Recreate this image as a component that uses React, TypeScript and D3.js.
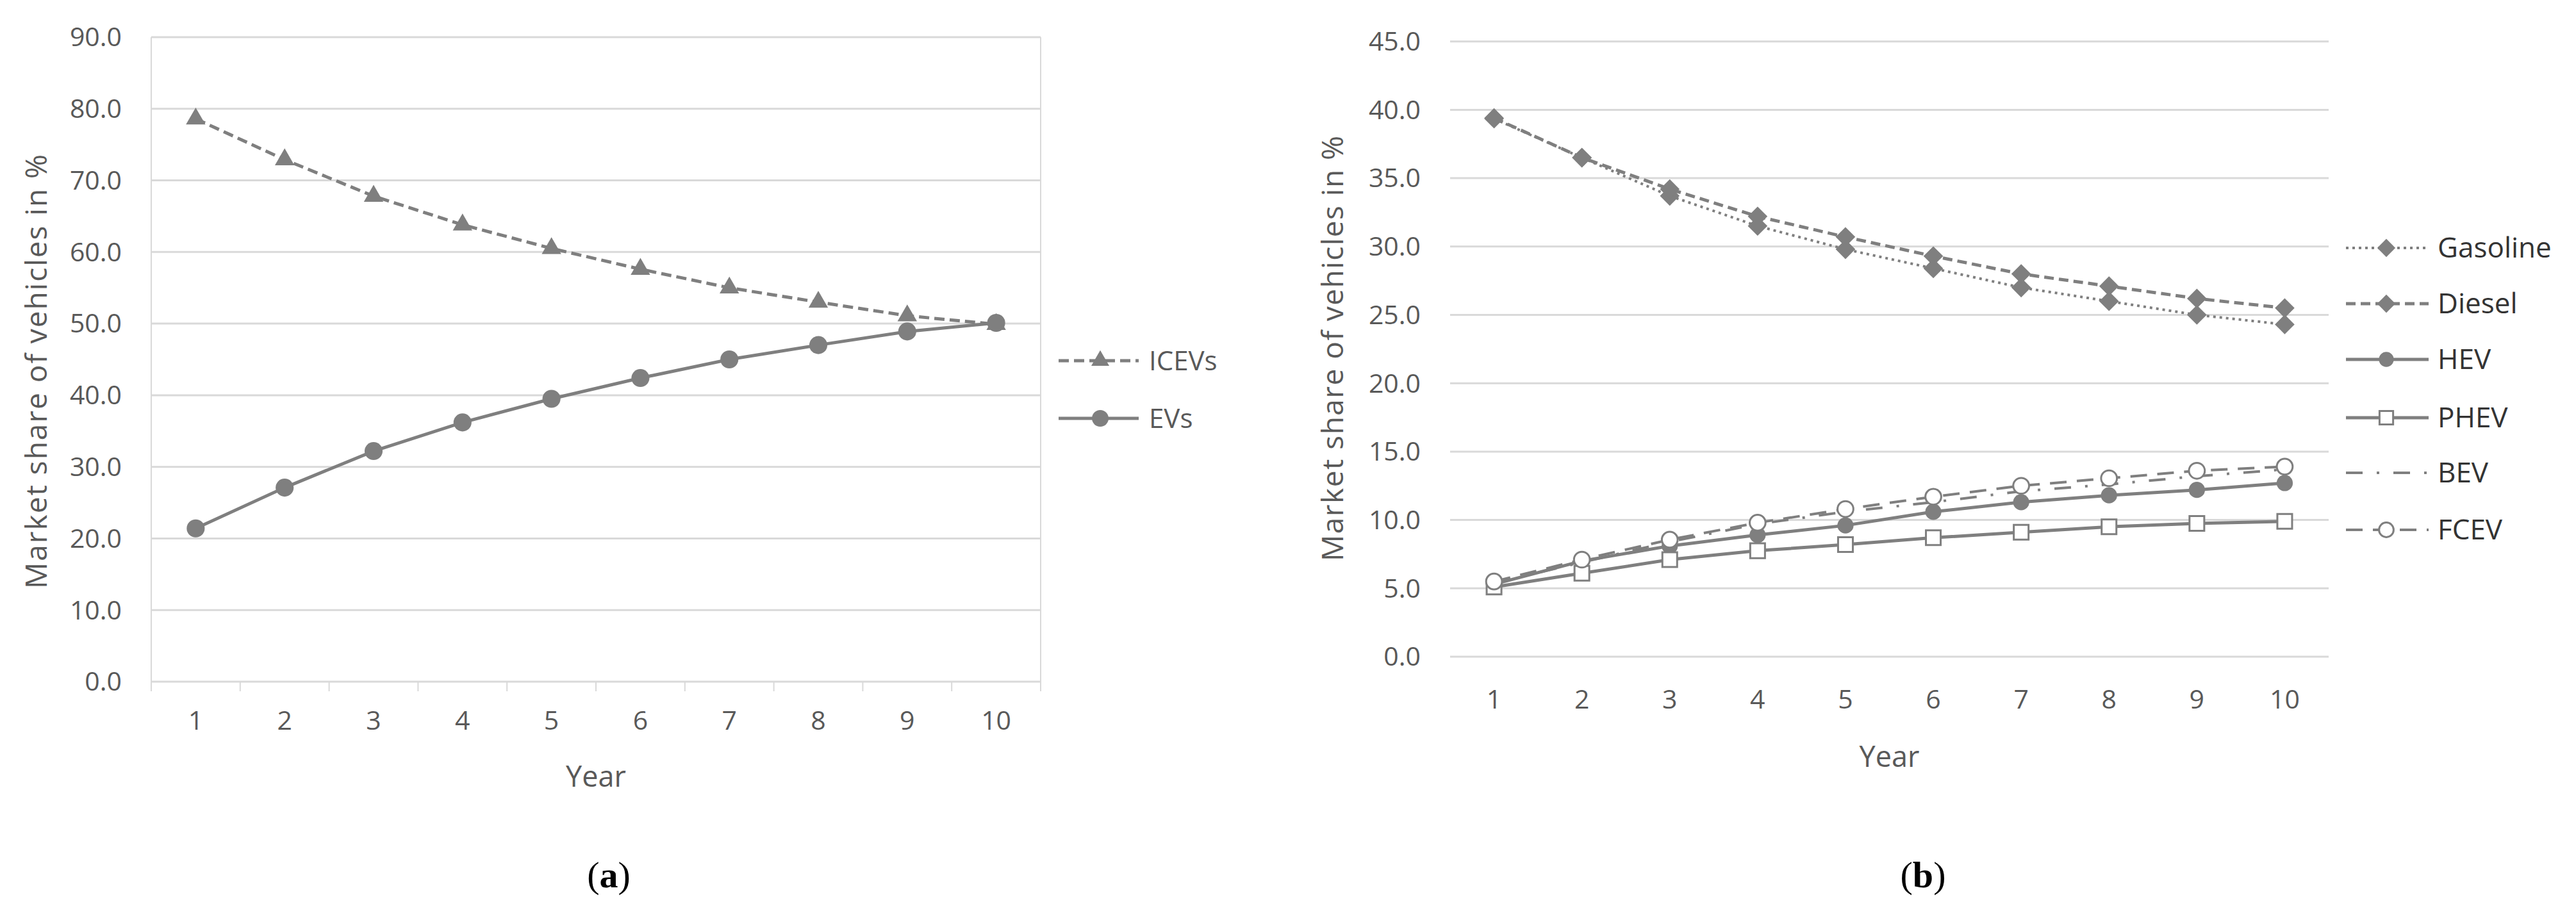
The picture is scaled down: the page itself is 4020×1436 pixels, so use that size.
import React from "react";
import * as d3 from "d3";

const years = [1, 2, 3, 4, 5, 6, 7, 8, 9, 10];

// Panel (a)
const icevs = [78.6, 72.9, 67.8, 63.8, 60.5, 57.6, 55.0, 53.0, 51.1, 49.9];
const evs = [21.4, 27.1, 32.2, 36.2, 39.5, 42.4, 45.0, 47.0, 48.9, 50.1];
const ticksA = [0, 10, 20, 30, 40, 50, 60, 70, 80, 90];

// Panel (b)
const gasoline = [39.35, 36.5, 33.7, 31.5, 29.8, 28.4, 27.0, 26.0, 25.0, 24.3];
const diesel = [39.4, 36.5, 34.2, 32.2, 30.7, 29.3, 28.0, 27.1, 26.2, 25.5];
const hev = [5.3, 7.0, 8.1, 8.9, 9.6, 10.6, 11.3, 11.8, 12.2, 12.7];
const phev = [5.1, 6.1, 7.1, 7.75, 8.2, 8.7, 9.1, 9.5, 9.75, 9.9];
const bev = [5.4, 6.9, 8.4, 9.7, 10.6, 11.3, 12.1, 12.6, 13.2, 13.7];
const fcev = [5.5, 7.1, 8.56, 9.8, 10.8, 11.7, 12.5, 13.05, 13.6, 13.9];
const ticksB = [0, 5, 10, 15, 20, 25, 30, 35, 40, 45];

const LINE = "#7f7f7f";
const GRID = "#d9d9d9";
const TXT = "#595959";
const FONT = "'Open Sans', 'Noto Sans', sans-serif";

type Marker = "triangle" | "circle" | "diamond" | "square" | "ocircle" | "none";
type Series = { name: string; values: number[]; dash: string | null; marker: Marker; size: number; width: number };

function MarkerShape({ m, x, y, size }: { m: Marker; x: number; y: number; size: number }) {
  if (m === "none") return null;
  if (m === "triangle") {
    const d = d3.symbol().type(d3.symbolTriangle).size(size)();
    return <path d={d || ""} transform={`translate(${x},${y})`} fill={LINE} />;
  }
  if (m === "circle") {
    const d = d3.symbol().type(d3.symbolCircle).size(size)();
    return <path d={d || ""} transform={`translate(${x},${y})`} fill={LINE} />;
  }
  if (m === "ocircle") {
    const d = d3.symbol().type(d3.symbolCircle).size(size)();
    return <path d={d || ""} transform={`translate(${x},${y})`} fill="#fff" stroke={LINE} strokeWidth={3} />;
  }
  if (m === "diamond") {
    const d = d3.symbol().type(d3.symbolSquare).size(size)();
    return <path d={d || ""} transform={`translate(${x},${y}) rotate(45)`} fill={LINE} />;
  }
  const d = d3.symbol().type(d3.symbolSquare).size(size)();
  return <path d={d || ""} transform={`translate(${x},${y})`} fill="#fff" stroke={LINE} strokeWidth={3} />;
}

function Panel(props: {
  left: number; right: number; top: number; bottom: number; ymax: number; ticks: number[];
  series: Series[]; border: boolean; xLabelY: number; yearY: number; titleX: number; titleY: number; titleLen: number;
  legendX0: number; legendX1: number; legendM: number; legendT: number; legendRows: number[];
  legendFont: number; legendColor: string; tag: string; tagX: number;
}) {
  const { left, right, top, bottom, ymax, ticks, series } = props;
  const x = d3.scaleBand<number>().domain(years).range([left, right]);
  const y = d3.scaleLinear().domain([0, ymax]).range([bottom, top]);
  const cx = (v: number) => (x(v) as number) + x.bandwidth() / 2;
  const line = d3.line<number>().x((_, i) => cx(years[i])).y((v) => y(v));
  const fmt = d3.format(".1f");
  return (
    <g>
      {ticks.map((t) => (
        <line key={"g" + t} x1={left} x2={right} y1={y(t)} y2={y(t)} stroke={GRID} strokeWidth={3} />
      ))}
      {props.border && (
        <g>
          <line x1={left} x2={left} y1={top} y2={bottom} stroke={GRID} strokeWidth={2} />
          <line x1={right} x2={right} y1={top} y2={bottom} stroke={GRID} strokeWidth={2} />
          {[...years.map((v) => x(v) as number), right].map((p, i) => (
            <line key={"t" + i} x1={p} x2={p} y1={bottom} y2={bottom + 15} stroke={GRID} strokeWidth={2} />
          ))}
        </g>
      )}
      {ticks.map((t) => (
        <text key={"l" + t} x={left - 46} y={y(t)} dy="0.35em" textAnchor="end" fontSize={41} fill={TXT} fontFamily={FONT}>
          {fmt(t)}
        </text>
      ))}
      {years.map((v) => (
        <text key={"x" + v} x={cx(v)} y={props.xLabelY} dy="0.35em" textAnchor="middle" fontSize={41} fill={TXT} fontFamily={FONT}>
          {v}
        </text>
      ))}
      <text x={(left + right) / 2} y={props.yearY} dy="0.35em" textAnchor="middle" fontSize={45} fill={TXT} fontFamily={FONT}>
        Year
      </text>
      <text transform={`translate(${props.titleX},${props.titleY}) rotate(-90)`} dy="0.35em" textAnchor="middle" fontSize={46} fill={TXT} fontFamily={FONT} textLength={props.titleLen} lengthAdjust="spacing">
        Market share of vehicles in %
      </text>
      {series.map((s) => (
        <g key={s.name}>
          <path d={line(s.values) || ""} fill="none" stroke={LINE} strokeWidth={s.width} strokeDasharray={s.dash || undefined} />
          {s.values.map((v, i) => (
            <MarkerShape key={i} m={s.marker} x={cx(years[i])} y={y(v)} size={s.size} />
          ))}
        </g>
      ))}
      {series.map((s, i) => (
        <g key={"lg" + s.name}>
          <line x1={props.legendX0} x2={props.legendX1} y1={props.legendRows[i]} y2={props.legendRows[i]} stroke={LINE} strokeWidth={s.width} strokeDasharray={s.dash || undefined} />
          <MarkerShape m={s.marker} x={props.legendM} y={props.legendRows[i]} size={s.size * 0.85} />
          <text x={props.legendT} y={props.legendRows[i]} dy="0.35em" fontSize={props.legendFont} fill={props.legendColor} fontFamily={FONT}>
            {s.name}
          </text>
        </g>
      ))}
      <text x={props.tagX} y={1385} textAnchor="middle" fontSize={58} fontFamily="'Liberation Serif', 'DejaVu Serif', serif" fill="#000">
        (<tspan fontWeight="bold">{props.tag}</tspan>)
      </text>
    </g>
  );
}

export default function App() {
  const seriesA: Series[] = [
    { name: "ICEVs", values: icevs, dash: "16,8", marker: "triangle", size: 400, width: 5 },
    { name: "EVs", values: evs, dash: null, marker: "circle", size: 620, width: 5 },
  ];
  const seriesB: Series[] = [
    { name: "Gasoline", values: gasoline, dash: "4,6", marker: "diamond", size: 470, width: 4 },
    { name: "Diesel", values: diesel, dash: "15,8", marker: "diamond", size: 470, width: 5 },
    { name: "HEV", values: hev, dash: null, marker: "circle", size: 500, width: 5 },
    { name: "PHEV", values: phev, dash: null, marker: "square", size: 530, width: 5 },
    { name: "BEV", values: bev, dash: "26,22,4,22", marker: "none", size: 0, width: 4 },
    { name: "FCEV", values: fcev, dash: "26,16", marker: "ocircle", size: 480, width: 4 },
  ];
  return (
    <svg width={4020} height={1436} style={{ position: "absolute", left: 0, top: 0, background: "#fff" }}>
      <rect x={0} y={0} width={4020} height={1436} fill="#fff" />
      <Panel
        left={236} right={1624} top={58} bottom={1064} ymax={90} ticks={ticksA} series={seriesA} border={true}
        xLabelY={1125} yearY={1212} titleX={57} titleY={580} titleLen={678}
        legendX0={1652} legendX1={1777} legendM={1717} legendT={1793} legendRows={[563, 653]}
        legendFont={42} legendColor={TXT} tag="a" tagX={950}
      />
      <Panel
        left={2263} right={3634} top={64.7} bottom={1025} ymax={45} ticks={ticksB} series={seriesB} border={false}
        xLabelY={1092} yearY={1181} titleX={2080} titleY={544} titleLen={664}
        legendX0={3661} legendX1={3790} legendM={3724} legendT={3804} legendRows={[387, 474, 561, 652, 738, 827]}
        legendFont={44} legendColor="#333" tag="b" tagX={3001}
      />
    </svg>
  );
}
